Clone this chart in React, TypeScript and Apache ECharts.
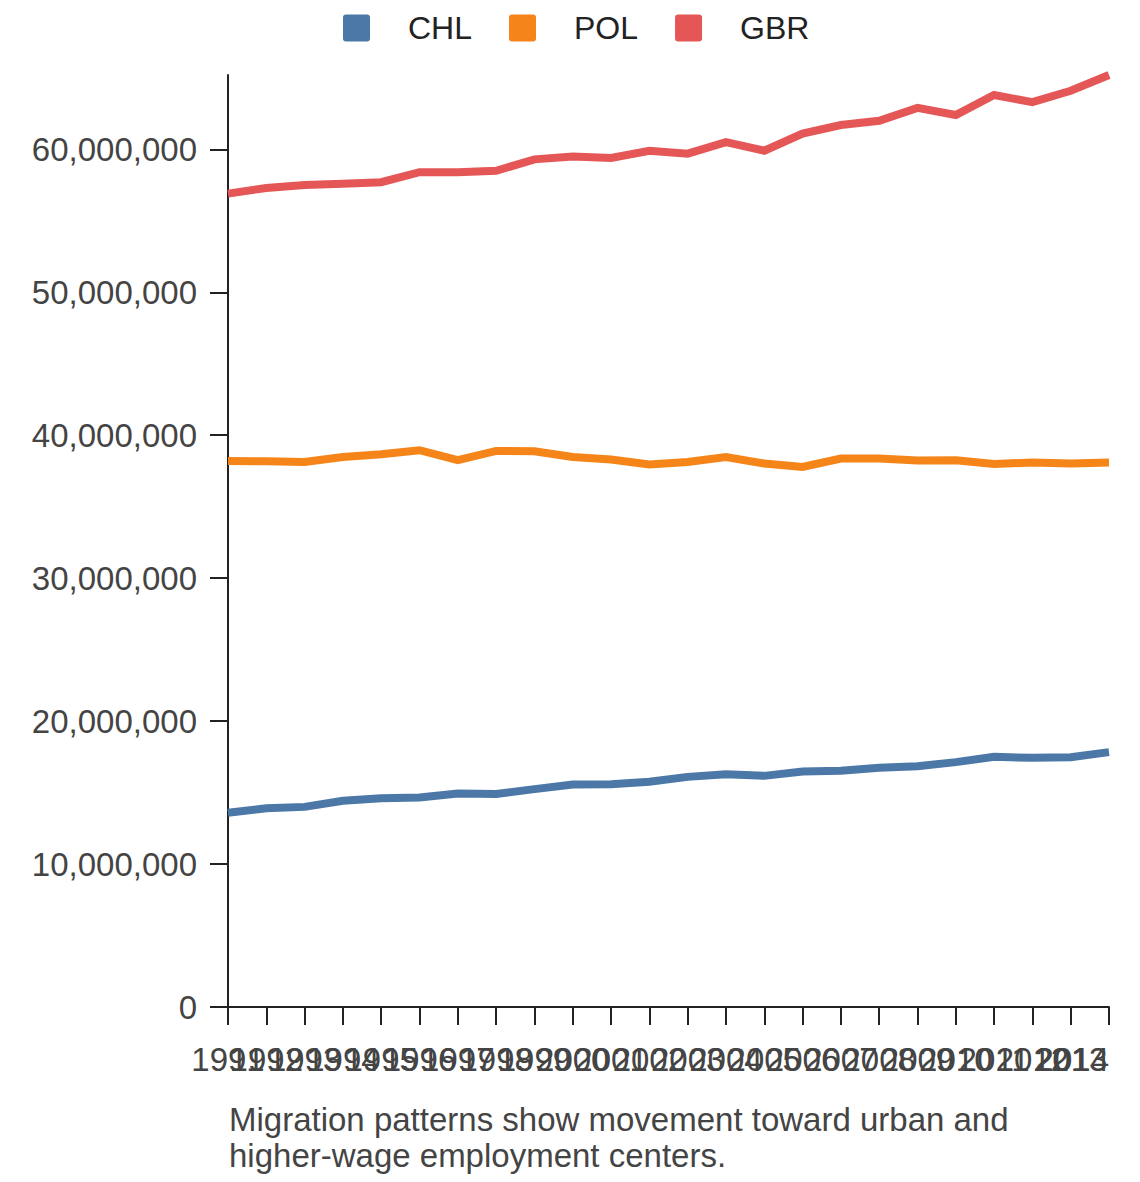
import React, { useEffect, useRef } from "react";
import * as echarts from "echarts";

const years = [
  "1991", "1992", "1993", "1994", "1995", "1996", "1997", "1998", "1999", "2000",
  "2001", "2002", "2003", "2004", "2005", "2006", "2007", "2008", "2009", "2010",
  "2011", "2012", "2013", "2014",
];

const chl = [
  13590000, 13900000, 14000000, 14430000, 14600000, 14660000, 14940000, 14900000,
  15240000, 15570000, 15590000, 15760000, 16100000, 16290000, 16170000, 16480000,
  16520000, 16730000, 16850000, 17130000, 17500000, 17430000, 17480000, 17830000,
];

const pol = [
  38200000, 38180000, 38130000, 38480000, 38670000, 38950000, 38250000, 38900000,
  38880000, 38480000, 38300000, 37950000, 38130000, 38480000, 38020000, 37780000,
  38370000, 38370000, 38230000, 38250000, 37990000, 38090000, 38020000, 38090000,
];

const gbr = [
  56900000, 57300000, 57500000, 57600000, 57700000, 58400000, 58400000, 58500000,
  59300000, 59500000, 59400000, 59900000, 59700000, 60500000, 59900000, 61100000,
  61700000, 62000000, 62900000, 62400000, 63800000, 63300000, 64100000, 65200000,
];

const yTicks = [0, 10000000, 20000000, 30000000, 40000000, 50000000, 60000000];

const seriesNames = ["CHL", "POL", "GBR"];
const seriesColors = ["#4c78a8", "#f58518", "#e45756"];

const caption =
  "Migration patterns show movement toward urban and\nhigher-wage employment centers.";

const FONT = "'Liberation Sans', Arial, Helvetica, sans-serif";
const ICON =
  "path://M3,0H24A3,3,0,0,1,27,3V24A3,3,0,0,1,24,27H3A3,3,0,0,1,0,24V3A3,3,0,0,1,3,0Z";

export default function App() {
  const ref = useRef<HTMLDivElement>(null);

  useEffect(() => {
    document.body.style.margin = "0";
    if (!ref.current) return;
    const chart = echarts.init(ref.current, undefined, { renderer: "svg" });
    const dataSets = [chl, pol, gbr];
    const yMax = Math.max(...gbr);
    chart.setOption({
      animation: false,
      textStyle: { fontFamily: FONT },
      legend: {
        left: 343,
        top: 12,
        padding: 0,
        itemWidth: 27,
        itemHeight: 27,
        itemGap: 37,
        icon: ICON,
        data: seriesNames,
        textStyle: {
          fontSize: 32,
          color: "#222",
          fontFamily: FONT,
          padding: [0, 0, 0, 33],
        },
      },
      grid: { left: 228, right: 31, top: 75, bottom: 175, containLabel: false },
      xAxis: {
        type: "category",
        data: years,
        boundaryGap: false,
        axisLine: { show: true, lineStyle: { color: "#222", width: 2 } },
        axisTick: {
          show: true,
          length: 18,
          interval: 0,
          lineStyle: { color: "#222", width: 2 },
        },
        axisLabel: {
          interval: 0,
          margin: 36,
          fontSize: 33,
          color: "#444",
          fontFamily: FONT,
          hideOverlap: false,
          alignMaxLabel: "right",
        },
        splitLine: { show: false },
      },
      yAxis: {
        type: "value",
        min: 0,
        max: yMax,
        axisLine: { show: true, lineStyle: { color: "#222", width: 2 } },
        axisTick: {
          show: true,
          length: 18,
          customValues: yTicks,
          lineStyle: { color: "#222", width: 2 },
        },
        axisLabel: {
          margin: 31,
          fontSize: 33,
          color: "#444",
          fontFamily: FONT,
          customValues: yTicks,
          formatter: (v: number) => v.toLocaleString("en-US"),
        },
        splitLine: { show: false },
      },
      series: seriesNames.map((name, i) => ({
        name,
        type: "line",
        data: dataSets[i],
        symbol: "none",
        showSymbol: false,
        color: seriesColors[i],
        lineStyle: { width: 8, color: seriesColors[i], join: "miter" },
        itemStyle: { color: seriesColors[i] },
      })),
      graphic: [
        {
          type: "text",
          left: 229,
          top: 1101,
          style: {
            text: caption,
            fontSize: 33,
            lineHeight: 36,
            fill: "#444",
            fontFamily: FONT,
          },
        },
      ],
    });
    return () => chart.dispose();
  }, []);

  return <div ref={ref} style={{ width: 1140, height: 1182 }} />;
}
